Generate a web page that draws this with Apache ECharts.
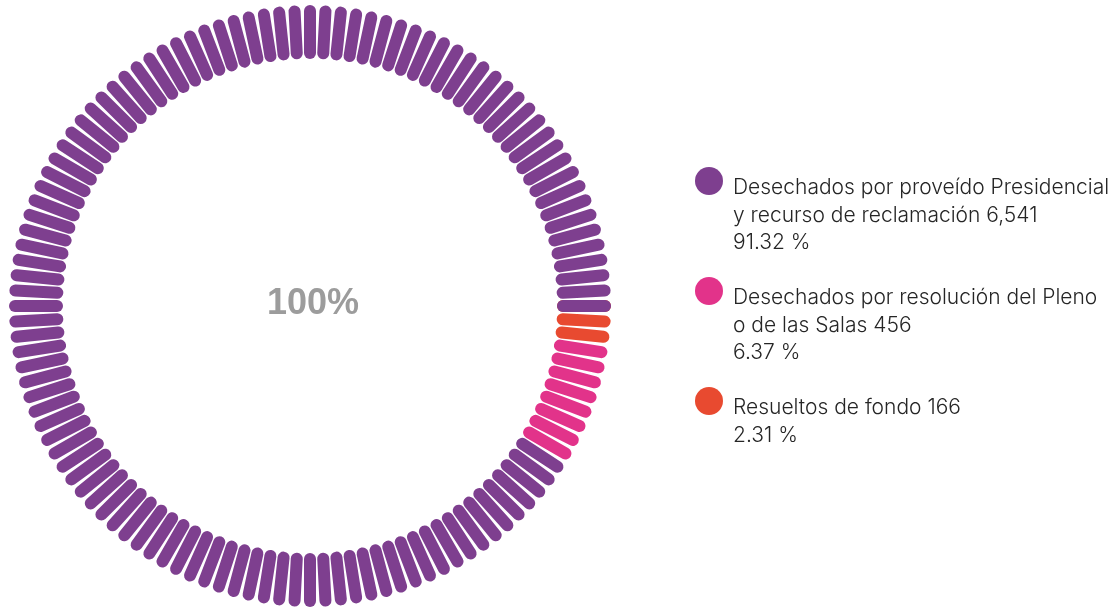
<!DOCTYPE html>
<html>
<head>
<meta charset="utf-8">
<script src="https://cdn.jsdelivr.net/npm/echarts@6/dist/echarts.min.js"></script>
<style>
html,body{margin:0;padding:0;background:#fff;}
#chart{width:1119px;height:613px;}
</style>
</head>
<body>
<div id="chart"></div>
<script>
// ---- data ----
const categories = [
  'Desechados por proveído Presidencial y recurso de reclamación',
  'Desechados por resolución del Pleno o de las Salas',
  'Resueltos de fondo'
];
const labelLines = [
  ['Desechados por proveído Presidencial', 'y recurso de reclamación'],
  ['Desechados por resolución del Pleno', 'o de las Salas'],
  ['Resueltos de fondo']
];
const values = [6541, 456, 166];
const percents = [91.32, 6.37, 2.31];
const totalPercent = [100];
const tickCount = 120;

// ---- styles ----
const colors = ['#7e3f8f', '#e2338a', '#e84a30'];

const total = values.reduce((a, b) => a + b, 0);
// ring goes clockwise from 3 o'clock: last category first
const stops = [];
let acc = 0;
for (let i = values.length - 1; i >= 0; i--) {
  acc += values[i];
  stops.push([i === 0 ? 1 : acc / total, colors[i]]);
}

const graphics = [];
categories.forEach((c, i) => {
  const cy = 181 + 110 * i;
  graphics.push({
    type: 'circle', left: 695, top: cy - 14,
    shape: { r: 14 }, style: { fill: colors[i] }, silent: true
  });
  const lines = labelLines[i].slice();
  lines[lines.length - 1] += ' ' + values[i].toLocaleString('en-US');
  lines.push(percents[i].toFixed(2) + ' %');
  graphics.push({
    type: 'text', x: 733, y: cy - 7,
    style: {
      text: lines.join('\n'),
      fill: '#262626',
      font: '300 21px Inter, Roboto, "Liberation Sans", sans-serif',
      lineHeight: 27.5,
      verticalAlign: 'top', align: 'left'
    },
    silent: true
  });
});

const chart = echarts.init(document.getElementById('chart'), null, { renderer: 'canvas' });
chart.setOption({
  animation: false,
  backgroundColor: '#ffffff',
  graphic: graphics,
  series: [{
    type: 'gauge',
    center: [310, 306],
    radius: 295,
    startAngle: 0,
    endAngle: -360,
    clockwise: true,
    min: 0,
    max: 100,
    splitNumber: tickCount,
    axisLine: { show: false, lineStyle: { width: 0, color: stops } },
    splitLine: {
      show: true, length: 42, distance: 0,
      lineStyle: { color: 'auto', width: 12, cap: 'round' }
    },
    axisTick: { show: false },
    axisLabel: { show: false },
    pointer: { show: false },
    anchor: { show: false },
    progress: { show: false },
    title: { show: false },
    detail: {
      show: true,
      offsetCenter: [3, -2],
      formatter: '{value}%',
      fontSize: 36,
      fontWeight: 'bold',
      fontFamily: '"Liberation Sans", Arial, sans-serif',
      color: '#9c9c9c',
      valueAnimation: false
    },
    data: [{ value: totalPercent[0] }]
  }]
});
</script>
</body>
</html>
